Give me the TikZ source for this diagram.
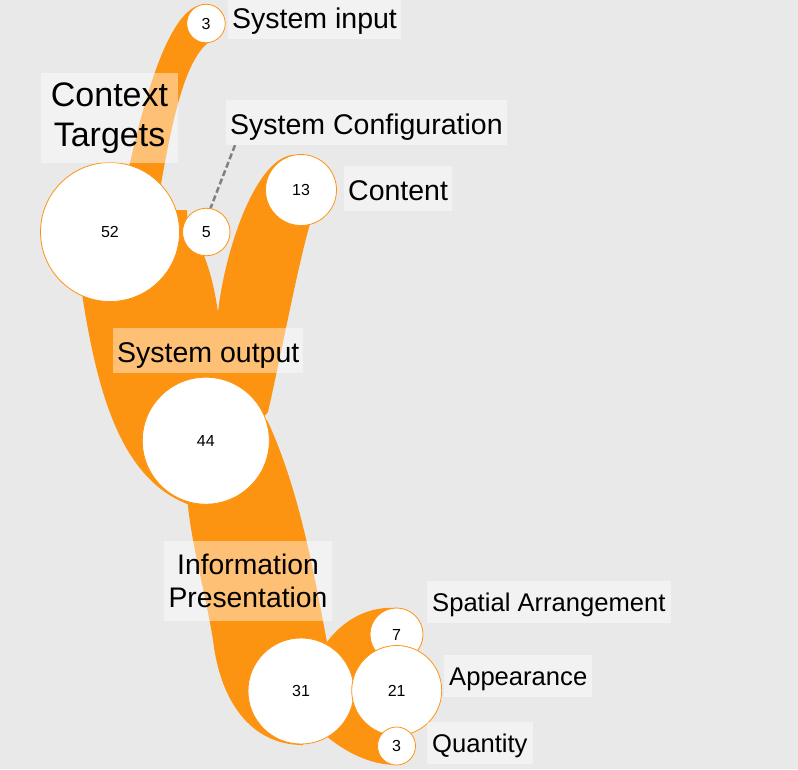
\documentclass[tikz,border=0pt]{standalone}
\usepackage{fontspec}
\setmainfont{Liberation Sans}
\definecolor{flow}{RGB}{253,148,17}
\definecolor{backgr}{RGB}{233,233,233}

\begin{document}
\begin{tikzpicture}[x=1pt,y=-1pt,
        band/.style={fill=flow},
        bubble/.style={circle,fill=white,draw=flow,line width=0.8pt,inner sep=0pt,font=\fontsize{16}{18}\selectfont},
        tag/.style={fill=white,fill opacity=0.42,text opacity=1,anchor=west,inner xsep=4pt,inner ysep=0pt,
            minimum height=45pt,text height=24pt,text depth=0pt,font=\fontsize{28.5}{34}\selectfont},
        smalltag/.style={tag,inner xsep=5pt,minimum height=42pt,text height=19pt,font=\fontsize{25.6}{30}\selectfont},
        blocktag/.style={fill=white,fill opacity=0.42,text opacity=1,align=center}]
        \fill[backgr] (0,0) rectangle (798,769);
        \useasboundingbox (0,0) rectangle (798,769);
        \fill[band] (201,5) .. controls (172,10) and (148,80) .. (128,172) -- (160,190) .. controls (172,120) and (185,60) .. (209,42) -- cycle;
        \fill[band] (82,294) .. controls (97,390) and (120,480) .. (190,505) -- (268,412) .. controls (282,350) and (298,265) .. (310,224) -- (301,190) -- (292,155) .. controls (255,160) and (225,250) .. (218,312) .. controls (214,285) and (209,268) .. (203,253) -- (206,232) -- (188,232) -- (187,210) -- (150,210) -- (110,232) -- cycle;
        \fill[band] (187,495) .. controls (190,540) and (205,590) .. (213,640) .. controls (220,700) and (250,745) .. (303,745) -- (301,691) -- (327,642) .. controls (315,580) and (300,490) .. (267,420) -- (206,441) -- cycle;
        \fill[band] (327,642) .. controls (345,618) and (370,606) .. (397,608) -- (397,765) .. controls (370,765) and (345,752) .. (325,735) -- (301,691) -- cycle;
        \node[bubble,minimum size=38.5pt] (in3) at (206,23.5) {3};
        \node[bubble,minimum size=139pt] (ctx52) at (110,232) {52};
        \node[bubble,minimum size=47.5pt] (cfg5) at (206.3,232) {5};
        \node[bubble,minimum size=71pt] (cont13) at (301,190) {13};
        \node[bubble,minimum size=127pt] (out44) at (205.8,440.7) {44};
        \node[bubble,minimum size=106pt] (info31) at (301,691) {31};
        \node[bubble,minimum size=53pt] (spat7) at (396.5,634.5) {7};
        \node[bubble,minimum size=90pt] (app21) at (396.7,690.5) {21};
        \node[bubble,minimum size=38pt] (quant3) at (396.5,746) {3};
        \node[tag] (inlab) at (228,16) {System input};
        \node[tag] (cfglab) at (226,122.5) {System Configuration};
        \node[tag] (contlab) at (344,188) {Content};
        \node[tag] (outlab) at (113,350.5) {System output};
        \node[blocktag,inner xsep=10pt,inner ysep=10pt,font=\fontsize{34}{40}\selectfont] (ctxlab) at (109.5,118) {Context\\Targets};
        \node[blocktag,inner xsep=5pt,inner ysep=12.5pt,font=\fontsize{28.3}{33.5}\selectfont] (infolab) at (248,581) {Information\\Presentation};
        \node[smalltag] (spatlab) at (427,602) {Spatial Arrangement};
        \node[smalltag] (applab) at (444,676) {Appearance};
        \node[smalltag] (quantlab) at (427,743) {Quantity};
        \draw[gray,line width=2.5pt,dash pattern=on 6pt off 3pt] ([xshift=9pt]cfglab.south west) -- (cfg5.80);
\end{tikzpicture}
\end{document}
